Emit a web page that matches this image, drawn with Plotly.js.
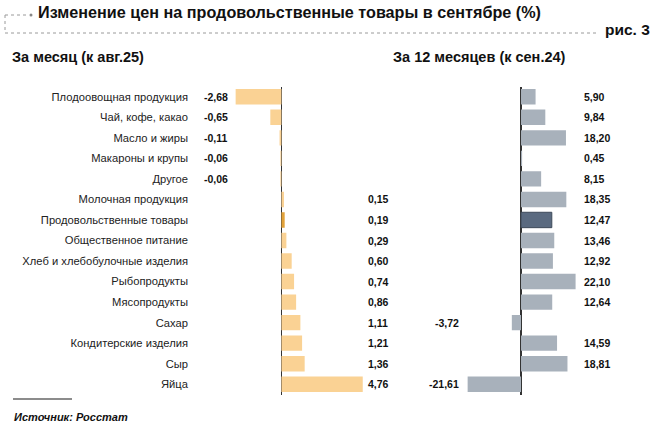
<!DOCTYPE html>
<html>
<head>
<meta charset="utf-8">
<script src="https://cdn.plot.ly/plotly-3.0.1.min.js"></script>
<style>html,body{margin:0;padding:0;background:#fff;}#chart{width:656px;height:441px;}</style>
</head>
<body>
<div id="chart"></div>
<script>
// ---- data ----
var categories = [
  "Плодоовощная продукция",
  "Чай, кофе, какао",
  "Масло и жиры",
  "Макароны и крупы",
  "Другое",
  "Молочная продукция",
  "Продовольственные товары",
  "Общественное питание",
  "Хлеб и хлебобулочные изделия",
  "Рыбопродукты",
  "Мясопродукты",
  "Сахар",
  "Кондитерские изделия",
  "Сыр",
  "Яйца"
];
var monthValues = [-2.68, -0.65, -0.11, -0.06, -0.06, 0.15, 0.19, 0.29, 0.60, 0.74, 0.86, 1.11, 1.21, 1.36, 4.76];
var yearValues = [5.90, 9.84, 18.20, 0.45, 8.15, 18.35, 12.47, 13.46, 12.92, 22.10, 12.64, -3.72, 14.59, 18.81, -21.61];
var highlightCategory = "Продовольственные товары";
var titleText = "Изменение цен на продовольственные товары в сентябре (%)";
var figLabel = "рис. 3";
var leftSubtitle = "За месяц (к авг.25)";
var rightSubtitle = "За 12 месяцев (к сен.24)";
var sourceText = "Источник: Росстат";

// ---- layout helpers ----
var W = 656, H = 441;
function px(x){ return x / W; }
function py(y){ return 1 - y / H; }
function fmt(v){ return v.toFixed(2).replace('.', ','); }

var FONT = "Liberation Sans, Arial, sans-serif";
var orange = "#FAD294", orangeHi = "#E2A23A";
var gray = "#A8B1BB", grayHi = "#5A6A80";

var leftColors = categories.map(function(c){ return c === highlightCategory ? orangeHi : orange; });
var rightColors = categories.map(function(c){ return c === highlightCategory ? grayHi : gray; });
var rightLine = categories.map(function(c){ return c === highlightCategory ? "#3E4A5A" : "rgba(0,0,0,0)"; });

var traces = [
  {type: "bar", orientation: "h", x: monthValues, y: categories, xaxis: "x", yaxis: "y",
   marker: {color: leftColors}, hoverinfo: "skip"},
  {type: "bar", orientation: "h", x: yearValues, y: categories, xaxis: "x2", yaxis: "y2",
   marker: {color: rightColors, line: {color: rightLine, width: 1}}, hoverinfo: "skip"}
];

var annotations = [];
var valFont = {family: FONT, size: 10.5, color: "#111"};
monthValues.forEach(function(v, i){
  annotations.push({xref: "paper", yref: "y", x: v < 0 ? px(230) : px(366), y: categories[i],
    xanchor: v < 0 ? "right" : "left", yanchor: "middle", showarrow: false,
    text: "<b>" + fmt(v) + "</b>", font: valFont});
});
yearValues.forEach(function(v, i){
  annotations.push({xref: "paper", yref: "y2", x: v < 0 ? px(461) : px(582), y: categories[i],
    xanchor: v < 0 ? "right" : "left", yanchor: "middle", showarrow: false,
    text: "<b>" + fmt(v) + "</b>", font: valFont});
});
annotations.push({xref: "paper", yref: "paper", x: px(10), y: py(57), xanchor: "left", yanchor: "middle",
  showarrow: false, text: "<b>" + leftSubtitle + "</b>", font: {family: FONT, size: 14.5, color: "#111"}});
annotations.push({xref: "paper", yref: "paper", x: px(391), y: py(57), xanchor: "left", yanchor: "middle",
  showarrow: false, text: "<b>" + rightSubtitle + "</b>", font: {family: FONT, size: 14.5, color: "#111"}});
annotations.push({xref: "paper", yref: "paper", x: px(652), y: py(29), xanchor: "right", yanchor: "middle",
  showarrow: false, text: "<b>" + figLabel + "</b>", font: {family: FONT, size: 15.5, color: "#111"}});
annotations.push({xref: "paper", yref: "paper", x: px(12), y: py(417), xanchor: "left", yanchor: "middle",
  showarrow: false, text: "<b><i>" + sourceText + "</i></b>", font: {family: FONT, size: 11, color: "#111"}});

var dot = {color: "#9a9a9a", width: 1, dash: "dot"};
var shapes = [
  {type: "line", xref: "paper", yref: "paper", x0: px(5), y0: py(15), x1: px(5), y1: py(33), line: dot},
  {type: "line", xref: "paper", yref: "paper", x0: px(5), y0: py(33), x1: px(598), y1: py(33), line: dot},
  {type: "line", xref: "paper", yref: "paper", x0: px(5), y0: py(15), x1: px(29), y1: py(15), line: dot},
  {type: "circle", xref: "paper", yref: "paper", x0: px(29.5), y0: py(13.5), x1: px(32.5), y1: py(16.5),
   fillcolor: "#888", line: {width: 0}},
  {type: "line", xref: "paper", yref: "paper", x0: px(13), y0: py(399), x1: px(72), y1: py(399),
   line: {color: "#666", width: 1.5}}
];

var yBase = {type: "category", categoryorder: "array", categoryarray: categories,
  range: [categories.length - 0.5, -0.5], showgrid: false, zeroline: false, showline: false,
  ticks: "", fixedrange: true};
var xBase = {showgrid: false, showticklabels: false, showline: false, ticks: "",
  zeroline: true, zerolinecolor: "#333", zerolinewidth: 1.5, fixedrange: true};

var layout = {
  width: W, height: H,
  margin: {l: 0, r: 0, t: 0, b: 0},
  paper_bgcolor: "#fff", plot_bgcolor: "rgba(0,0,0,0)",
  showlegend: false,
  bargap: 0.25,
  font: {family: FONT, color: "#222"},
  title: {text: "<b>" + titleText + "</b>", x: px(38), xanchor: "left", y: py(12), yanchor: "middle",
    font: {family: FONT, size: 16.2, color: "#111"}},
  xaxis: Object.assign({}, xBase, {domain: [px(189), px(400)], range: [-5.41, 6.94], anchor: "y"}),
  yaxis: Object.assign({}, yBase, {domain: [py(394.5), py(86.5)], anchor: "x", showticklabels: true,
    tickfont: {family: FONT, size: 11.2, color: "#222"}}),
  xaxis2: Object.assign({}, xBase, {domain: [px(420), px(620)], range: [-40.9, 40.08], anchor: "y2"}),
  yaxis2: Object.assign({}, yBase, {domain: [py(394.5), py(86.5)], anchor: "x2", showticklabels: false}),
  annotations: annotations,
  shapes: shapes
};

Plotly.newPlot("chart", traces, layout, {displayModeBar: false, staticPlot: true});
</script>
</body>
</html>
